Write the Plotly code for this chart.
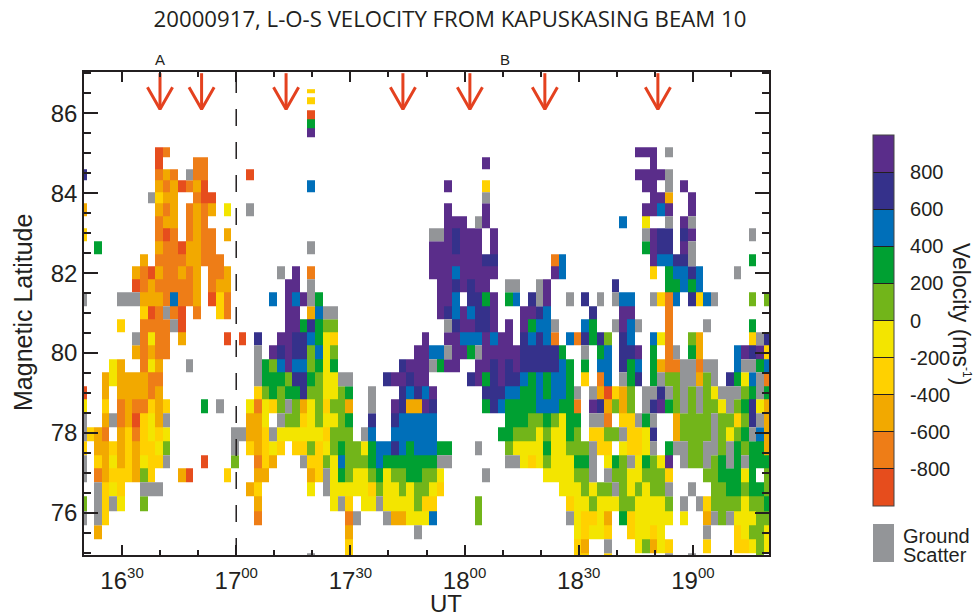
import re
import plotly.graph_objects as go

# ---------- data ----------
velocity_codes = {"R": -900, "O": -700, "A": -500, "Y": -300, "L": -100,
                  "G": 100, "D": 300, "B": 500, "N": 700, "P": 900}
band_colors = ["#E64D1D", "#EE7D17", "#F2A900", "#FFD100", "#F3E500",
               "#72B51A", "#00A032", "#006FB9", "#35318B", "#5A2D8A"]
scatter_color = "#939598"

# top edges of range-gate rows, magnetic latitude, top to bottom
lat_edges = [86.60, 86.50, 86.40, 86.225, 86.075, 85.85, 85.625, 85.40, 85.15, 84.90,
             84.60, 84.325, 84.025, 83.75, 83.425, 83.125, 82.80, 82.475, 82.175, 81.85,
             81.525, 81.175, 80.85, 80.525, 80.20, 79.85, 79.525, 79.175, 78.85, 78.50,
             78.15, 77.80, 77.45, 77.125, 76.775, 76.425, 76.05, 75.70, 75.35, 75.00, 74.625]

scan_start = 18.68   # minutes after 16:00 of first scan column
scan_step = 2.0
first_col = -1
n_cols = 91

# row -> "column(s) + code"
rows = {
 0: "29Y",
 2: "29Y",
 4: "29R",
 5: "29D",
 6: "29P",
 8: "9R 10O 72-74P 76X",
 9: "9R 14-15O 52P 74P",
 10: "-1N 9O 10A 11O 13X 14-15O 21R 72-75P 76X",
 11: "9A 10O 11A 12R 13O 14A 15R 29B 47P 52Y 73-74P 76X 78P",
 12: "8X 9Y 10-11A 14O 15-16R 52X 74-75P 76A 79P",
 13: "-1A 9A 10O 11A 13O 14A 15O 16A 18L 21X 47P 52P 73-74P 75B 76P 79P",
 14: "9O 10-11A 13O 14A 15O 47-49P 51X 52P 70B 73L 76X 78P 79X",
 15: "-1Y 9O 10R 11O 13O 14A 15-16O 18A 45-46X 47P 48N 49-51P 53P 73X 74P 75-76N 78N 79P 87X",
 16: "1D 9A 10-11O 12R 13-14A 15-16O 29X 45-47P 48N 49-51P 53P 73D 74P 75-76N 78P 79X",
 17: "7A 9-12O 13-14A 15-17O 45-51P 52-53N 61O 62B 74P 75-76B 77-78N 79X 87D",
 18: "6A 7O 8R 9A 10-11O 12A 13O 14A 16-17O 18A 25X 27P 29O 45-47P 48B 49-53P 61P 62B 74Y 76D 77-78B 79N 80B 85X",
 19: "6R 7O 8A 9-13O 14A 16O 17-18A 26-27P 29X 46-47P 48N 49P 50N 51-52P 55-56X 59X 60P 69N 76-77D 78B 79D 80B",
 20: "-1X 4-6X 7-9A 10O 11B 12-13O 14A 16R 17Y 18O 24B 26P 27B 28P 29X 30D 46-47P 48B 50-51N 52D 53P 55D 56B 58N 59X 60P 63X 65N 67X 69X 70-71B 74X 75Y 76O 77B 79N 80Y 81B 82X 87G 89G",
 21: "7Y 8R 9O 10X 11O 12R 14O 17Y 18O 26-27P 29A 30B 31-32X 46P 47N 48B 49P 50B 51-52N 53P 57-58P 59N 60B 66N 70-71P 76O",
 22: "4Y 7-10O 11X 12R 26-27P 28D 29N 30D 31-32G 47X 48N 49-50P 51-52N 53P 55P 57P 58D 59-60B 61X 65B 66D 69X 70P 71B 72X 76O 81X 87D",
 23: "6X 7O 8L 9-10O 12A 18R 20R 22N 25-26P 27-28N 29B 30D 31L 32Y 44P 47-48P 49-51B 52P 53B 54-55P 57N 58B 59N 60B 61O 63B 64O 65N 66D 67N 68G 70N 71B 74B 75L 76O 79G 80A 87Y 88X 89N",
 24: "6A 7O 8A 9-10O 22X 24P 25N 26P 27-28N 29G 30B 31L 32G 43-44P 45-46B 47X 48-49P 50D 51X 52-56P 57-61N 62D 65X 67D 68B 70-71N 72P 74D 76O 77X 79D 80A 85B 86P 87N 88P 89Y",
 25: "3L 4A 7O 8L 9A 13X 22X 23D 24G 25B 26P 27-28B 29G 30D 31L 32D 41N 42-44P 45X 46D 47-48P 51-52P 53N 54P 55N 56P 57-61N 62B 63D 65D 67-68B 70N 71D 72B 74D 75A 76-77O 78-79X 80O 81-82X 85B 86-87X 88D 89B",
 26: "2A 3L 4-7A 8-9O 22X 23-25D 26G 27-28N 29D 30G 31-32L 33-34X 39N 40-41P 42N 43-44P 50N 51P 52D 53N 54P 55-56N 57B 58D 59B 60D 61-62B 63D 65Y 67O 68B 70X 71D 72N 74D 75X 76-77G 78-79X 80A 81G 82X 84N 85D 86L 87B 88X 89O",
 27: "-1R 2A 4-7A 8O 9A 22Y 23G 24D 25G 26-27D 28N 29-30G 31-32L 33G 34D 37X 41N 42B 43N 44B 45P 52-54N 55-56B 57-58D 59B 60D 61-62B 63D 64X 66X 67A 68R 69Y 70A 71G 73-74X 75N 76X 77G 78X 79G 80X 81G 82L 83-85X 86G 87D 88X 89D",
 28: "-1L 2Y 4O 5A 6-7O 8Y 9A 10Y 15D 17X 21L 22O 23L 24Y 25G 26X 27G 28A 29L 30G 31Y 32-33G 34A 37X 40P 41N 42-43A 44P 45N 52D 53N 54B 55-58D 59-61B 62-63D 64O 66P 67N 68A 69G 70A 71G 73X 74N 75P 76D 77G 78X 79G 80X 81-82G 83L 84X 85G 86D 87N 88L 89A",
 29: "-1X 2A 3X 4O 5A 6R 7Y 8L 9A 10X 21-22A 23L 25X 26-27G 28Y 29L 30G 31-32L 33G 34D 37N 40N 41-45B 55-57D 58-59G 60D 61G 62L 63-64D 66-67X 68O 70-71Y 72X 73D 74X 77A 78-81G 82X 83-84G 85Y 86G 87N 88X 89A",
 30: "-1X 0Y 1A 2O 4A 5Y 6O 7Y 8L 9Y 10L 19-20X 21-22A 23Y 24X 25-30L 31Y 32-34G 36X 37B 40-45B 54-55D 56-58G 59L 60G 61-62L 63D 64G 66-67Y 68-69G 70X 71-72Y 73L 74N 77A 78-81G 82X 83G 84L 85G 86D 87X 88B 89A",
 31: "-1Y 1-2A 3Y 4A 5Y 6A 7-8Y 9L 10G 19X 21Y 22A 23Y 24L 25Y 27-28Y 29G 30Y 31L 32G 33D 34-35G 36L 37D 38-39B 40N 41B 42D 43-45B 46-47D 51X 55G 56-59L 60D 61-62L 63-65G 66X 67-68Y 70L 71-72Y 73L 74X 76D 77-78X 79-80G 81-82X 83G 84X 85D 86G 87-88D 89A",
 32: "-1X 1Y 2A 3L 4A 5Y 6A 7L 8-9Y 10X 15R 19G 22O 23Y 24A 28X 29-30Y 31G 32L 33B 34-36G 37D 38B 39-45D 46-47X 55-56X 57L 58Y 59L 60G 61-63L 64-65D 66X 68L 69D 70G 71X 72L 73D 74G 75L 76P 78X 79-80G 81X 82G 83D 84X 85D 86X 87-89D",
 33: "-1X 1O 2A 3-5Y 6A 7G 8Y 12A 13R 18Y 22-23A 29A 30Y 31X 32L 33D 34G 35-36L 37G 38D 39L 40-41G 42-43D 44-45G 46L 52X 60-63L 64-65G 66X 68X 69-70G 71-72L 73-75G 76Y 81-82G 83-85D 86L 87D 89G",
 34: "1X 2Y 3L 4Y 7-9X 21A 22Y 29L 31X 32-36L 37Y 38G 39-40L 41G 42L 43-44G 45L 46Y 62-64L 65G 66L 67-68G 69X 70G 71L 72G 73L 74-75G 76X 79X 82-83G 84-85D 86G 87-88D 89G",
 35: "-1G 1X 2Y 3X 4L 7G 22A 32L 33X 34Y 36-37L 38X 39-42L 43G 44-45Y 51G 63Y 64-65L 66G 67-69L 70-71G 72-75L 76G 78X 80X 81Y 82-85G 86L 87-88G 89D",
 36: "-1X 1X 2Y 22O 34O 35X 39X 40-41A 42-44L 45B 51G 63X 64L 65-66Y 67L 68A 70D 71Y 72-76L 78L 81A 82X 83G 84X 85-87L 88-89G",
 37: "1A 34A 43X 64L 65Y 66-67L 68Y 71Y 72-73L 74Y 75L 81X 85Y 86L 87-88G 89L",
 38: "34Y 64Y 65A 68X 72L 73G 74A 75L 76Y 81Y 85-86Y 87L 88G 89L",
 39: "29X 34Y 64-65Y 68Y 76X 79X 88G",
}

arrow_times = [39.97, 50.9, 73.1, 103.8, 121.4, 141.1, 170.8]
x_ticks = [30, 60, 90, 120, 150, 180]
x_hours = ["16", "17", "17", "18", "18", "19"]
x_mins = ["30", "00", "30", "00", "30", "00"]
cbar_ticks = [-800, -600, -400, -200, 0, 200, 400, 600, 800]

# ---------- build grids ----------
n_rows = len(lat_edges) - 1
vel = [[None] * n_cols for _ in range(n_rows)]
gs = [[None] * n_cols for _ in range(n_rows)]
for r, text in rows.items():
    for a, b, code in re.findall(r"(-?\d+)(?:-(\d+))?([A-Z])", text):
        a = int(a)
        b = int(b) if b else a
        for k in range(a, b + 1):
            if code == "X":
                gs[r][k - first_col] = 1
            else:
                vel[r][k - first_col] = velocity_codes[code]
x_edges = [scan_start + scan_step * i for i in range(n_cols + 1)]

scale = []
for i, c in enumerate(band_colors):
    scale += [[i / 10, c], [(i + 1) / 10, c]]

DARK = "#231F20"
FONT = "Liberation Sans, Arial, sans-serif"
L, R, T, B = 84, 769, 72, 555
W, H = 973, 616
PW, PH = R - L, B - T
px = lambda x: (x - L) / PW
py = lambda y: (B - y) / PH

x_labels = [f'{h}<sup><span style="font-size:15px">{m}</span></sup>' for h, m in zip(x_hours, x_mins)]

fig = go.Figure()
fig.add_trace(go.Heatmap(
    x=x_edges, y=lat_edges, z=vel, zmin=-1000, zmax=1000, colorscale=scale,
    hoverongaps=False, zsmooth=False,
    colorbar=dict(
        x=px(873), xanchor="left", xpad=0, xref="paper",
        y=py(506), yanchor="bottom", ypad=0, yref="paper",
        lenmode="pixels", len=371, thicknessmode="pixels", thickness=21,
        outlinewidth=1, outlinecolor="#444444",
        tickmode="array", tickvals=cbar_ticks,
        ticktext=[f"\u00a0\u00a0{v}" for v in cbar_ticks],
        ticks="inside", ticklen=21, tickcolor=DARK, tickwidth=1,
        tickfont=dict(family=FONT, size=20, color=DARK),
    ),
))
fig.add_trace(go.Heatmap(
    x=x_edges, y=lat_edges, z=gs, zmin=0, zmax=1, showscale=False,
    colorscale=[[0, scatter_color], [1, scatter_color]], hoverongaps=False, zsmooth=False,
))

# arrows marking the events
ax, ay = [], []
for t in arrow_times:
    ax += [t, t, None, t - 3.3, t, t + 3.3, None]
    ay += [87.0, 86.1, None, 86.65, 86.1, 86.65, None]
fig.add_trace(go.Scatter(x=ax, y=ay, mode="lines", hoverinfo="skip",
                         line=dict(color="#E4411F", width=3), connectgaps=False))

fig.add_shape(type="line", x0=60, x1=60, y0=0, y1=1, yref="paper", xref="x",
              line=dict(color=DARK, width=1.5, dash="17px,16px"))
fig.add_shape(type="rect", xref="paper", yref="paper", x0=px(873), x1=px(894),
              y0=py(562), y1=py(524), fillcolor=scatter_color, line=dict(width=0))

def note(text, x, y, size, angle=0, anchor="left"):
    fig.add_annotation(text=text, xref="paper", yref="paper", x=px(x), y=py(y),
                       xanchor=anchor, yanchor="middle", showarrow=False, textangle=angle,
                       borderpad=0, font=dict(family=FONT, size=size, color=DARK))

note("A", 160, 60, 15, anchor="center")
note("B", 505, 60, 15, anchor="center")
note("Ground", 902, 536, 20)
note("Scatter", 902, 555, 20)
note('Velocity (ms<sup><span style="font-size:12px">-1</span></sup>)', 961, 314, 23, angle=90, anchor="center")
note("UT", 446, 603, 24, anchor="center")
note("Magnetic Latitude", 23, 313, 25, angle=-90, anchor="center")

fig.update_layout(
    width=W, height=H, autosize=False, showlegend=False,
    margin=dict(l=L, r=W - R, t=T, b=H - B, pad=0, autoexpand=False),
    paper_bgcolor="white", plot_bgcolor="white",
    title=dict(text="20000917, L-O-S VELOCITY FROM KAPUSKASING BEAM 10",
               x=px(450), xanchor="center", xref="paper", y=1 - 19 / H, yanchor="middle",
               font=dict(family="Open Sans, sans-serif", size=22.2, color=DARK)),
    xaxis=dict(range=[20, 200], tickmode="array", tickvals=x_ticks, ticktext=x_labels,
               ticks="inside", ticklen=10, tickwidth=1.5, tickcolor=DARK,
               minor=dict(tickmode="linear", tick0=20, dtick=10, ticks="inside", ticklen=5,
                          tickwidth=1.5, tickcolor=DARK),
               showline=True, linecolor=DARK, linewidth=1.5, mirror="ticks",
               showgrid=False, zeroline=False, ticklabelstandoff=3,
               tickfont=dict(family=FONT, size=24, color=DARK)),
    yaxis=dict(range=[74.95, 87.03], tickmode="linear", tick0=76, dtick=2,
               ticks="inside", ticklen=14, tickwidth=1.5, tickcolor=DARK,
               minor=dict(tickmode="linear", tick0=75, dtick=0.5, ticks="inside", ticklen=7,
                          tickwidth=1.5, tickcolor=DARK),
               showline=True, linecolor=DARK, linewidth=1.5, mirror="ticks",
               showgrid=False, zeroline=False,
               tickfont=dict(family=FONT, size=24, color=DARK)),
)

fig.write_html("out.html", post_script="document.body.style.margin='0';",
               config={"displayModeBar": False})
